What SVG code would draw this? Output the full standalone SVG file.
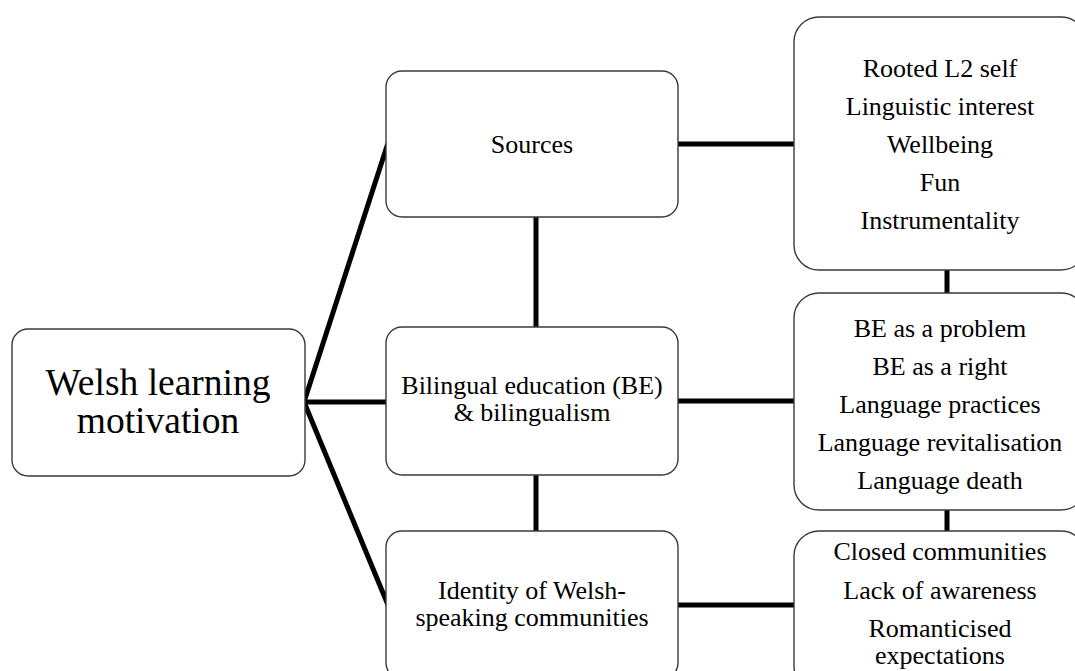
<svg xmlns="http://www.w3.org/2000/svg" width="1075" height="671" viewBox="0 0 1075 671">
<style>
.box{fill:#fff;stroke:#3a3a3a;stroke-width:1.4}
.t{font-family:"Liberation Serif","Times New Roman",serif;font-size:26px;fill:#000;text-anchor:middle}
.big{font-size:37.5px}
.c{stroke:#000;stroke-width:5;fill:none}
</style>
<rect width="1075" height="671" fill="#fff"/>
<g id="connectors">
<line class="c" x1="304" y1="402" x2="388" y2="143"/>
<line class="c" x1="304" y1="402" x2="388" y2="402"/>
<line class="c" x1="304" y1="402" x2="388" y2="605"/>
<line class="c" x1="536" y1="217" x2="536" y2="327"/>
<line class="c" x1="536" y1="475" x2="536" y2="531"/>
<line class="c" x1="678" y1="144" x2="794" y2="144"/>
<line class="c" x1="678" y1="401" x2="794" y2="401"/>
<line class="c" x1="678" y1="605" x2="794" y2="605"/>
<line class="c" x1="947" y1="270" x2="947" y2="293"/>
<line class="c" x1="947" y1="510" x2="947" y2="531"/>
</g>
<g id="main">
<rect class="box" x="12" y="329" width="293" height="147" rx="16"/>
<text class="t big" x="158" y="395">Welsh learning</text>
<text class="t big" x="158" y="433">motivation</text>
</g>
<g id="sources">
<rect class="box" x="386" y="71" width="292" height="146" rx="16"/>
<text class="t" x="532" y="153">Sources</text>
</g>
<g id="bilingual">
<rect class="box" x="386" y="327" width="292" height="148" rx="16"/>
<text class="t" x="532" y="394">Bilingual education (BE)</text>
<text class="t" x="532" y="421">&amp; bilingualism</text>
</g>
<g id="identity">
<rect class="box" x="386" y="531" width="292" height="148" rx="16"/>
<text class="t" x="532" y="599">Identity of Welsh-</text>
<text class="t" x="532" y="626">speaking communities</text>
</g>
<g id="sources-list">
<rect class="box" x="794" y="17" width="292" height="253" rx="25"/>
<text class="t" x="940" y="77">Rooted L2 self</text>
<text class="t" x="940" y="115">Linguistic interest</text>
<text class="t" x="940" y="153">Wellbeing</text>
<text class="t" x="940" y="191">Fun</text>
<text class="t" x="940" y="229">Instrumentality</text>
</g>
<g id="bilingual-list">
<rect class="box" x="794" y="293" width="292" height="217" rx="25"/>
<text class="t" x="940" y="337">BE as a problem</text>
<text class="t" x="940" y="375">BE as a right</text>
<text class="t" x="940" y="413">Language practices</text>
<text class="t" x="940" y="451">Language revitalisation</text>
<text class="t" x="940" y="489">Language death</text>
</g>
<g id="identity-list">
<rect class="box" x="794" y="531" width="292" height="160" rx="25"/>
<text class="t" x="940" y="560">Closed communities</text>
<text class="t" x="940" y="599">Lack of awareness</text>
<text class="t" x="940" y="637">Romanticised</text>
<text class="t" x="940" y="664">expectations</text>
</g>
</svg>
